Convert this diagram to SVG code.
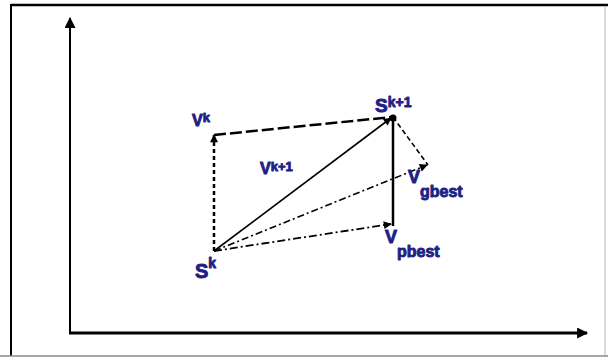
<svg xmlns="http://www.w3.org/2000/svg" width="608" height="358" viewBox="0 0 608 358">
<defs>
<marker id="ah" viewBox="0 0 10 10" refX="9" refY="5" markerWidth="10" markerHeight="8" markerUnits="userSpaceOnUse" orient="auto">
<path d="M0,0 L10,5 L0,10 Z" fill="#000"/>
</marker>
<marker id="ax" viewBox="0 0 10 10" refX="9" refY="5" markerWidth="14" markerHeight="11" markerUnits="userSpaceOnUse" orient="auto">
<path d="M0,0 L10,5 L0,10 Z" fill="#000"/>
</marker>
</defs>
<style>
.lbl{font-family:"Liberation Sans",Arial,sans-serif;font-weight:bold;fill:#1f1f86;stroke:#1f1f86;stroke-width:0.9;stroke-linejoin:round}
.ln{fill:none;stroke:#000}
</style>
<rect x="0" y="0" width="608" height="358" fill="#fff"/>
<g id="frame">
<line x1="11" y1="5" x2="608" y2="5" stroke="#000" stroke-width="2.5"/>
<line x1="11" y1="4" x2="11" y2="356" stroke="#000" stroke-width="2"/>
<line x1="605" y1="6" x2="605" y2="356" stroke="#cfcfcf" stroke-width="1.5"/>
<line x1="0" y1="356" x2="608" y2="356" stroke="#888" stroke-width="1.5"/>
</g>
<g id="axes">
<line class="ln" x1="70" y1="334" x2="70" y2="18" stroke-width="2" marker-end="url(#ax)"/>
<line class="ln" x1="69" y1="333" x2="587" y2="333" stroke-width="3" marker-end="url(#ax)"/>
</g>
<g id="connectors">
<line class="ln" x1="214" y1="251" x2="214" y2="135" stroke-width="2.5" stroke-dasharray="4,3" marker-end="url(#ah)"/>
<line class="ln" x1="214" y1="135" x2="392" y2="117" stroke-width="2.5" stroke-dasharray="12,4"/>
<line class="ln" x1="214" y1="251" x2="391" y2="118" stroke-width="1.6" marker-end="url(#ah)"/>
<line class="ln" x1="393" y1="117" x2="428" y2="165" stroke-width="1.6" stroke-dasharray="5,3"/>
<line class="ln" x1="214" y1="251" x2="427" y2="165" stroke-width="1.6" stroke-dasharray="7,3,2,3" marker-end="url(#ah)"/>
<line class="ln" x1="393" y1="117" x2="393" y2="226" stroke-width="2.5"/>
<line class="ln" x1="214" y1="251" x2="391" y2="224" stroke-width="1.8" stroke-dasharray="8,3,2,3" marker-end="url(#ah)"/>
<circle cx="393" cy="118" r="3.5" fill="#000"/>
</g>
<g id="node-sk">
<text class="lbl" x="195" y="278" font-size="20">S<tspan font-size="14" dy="-10">k</tspan></text>
</g>
<g id="node-sk1">
<text class="lbl" x="375" y="112" font-size="19">S<tspan font-size="14" dy="-5">k+1</tspan></text>
</g>
<g id="node-vk">
<text class="lbl" x="192" y="126" font-size="16">V<tspan font-size="13" dy="-4">k</tspan></text>
</g>
<g id="node-vk1">
<text class="lbl" x="260" y="174" font-size="16">V<tspan font-size="13" dy="-3">k+1</tspan></text>
</g>
<g id="node-gbest">
<text class="lbl" x="408" y="183" font-size="18">V<tspan font-size="16" dy="14">gbest</tspan></text>
</g>
<g id="node-pbest">
<text class="lbl" x="385" y="243" font-size="18">V<tspan font-size="16" dy="14">pbest</tspan></text>
</g>
</svg>
